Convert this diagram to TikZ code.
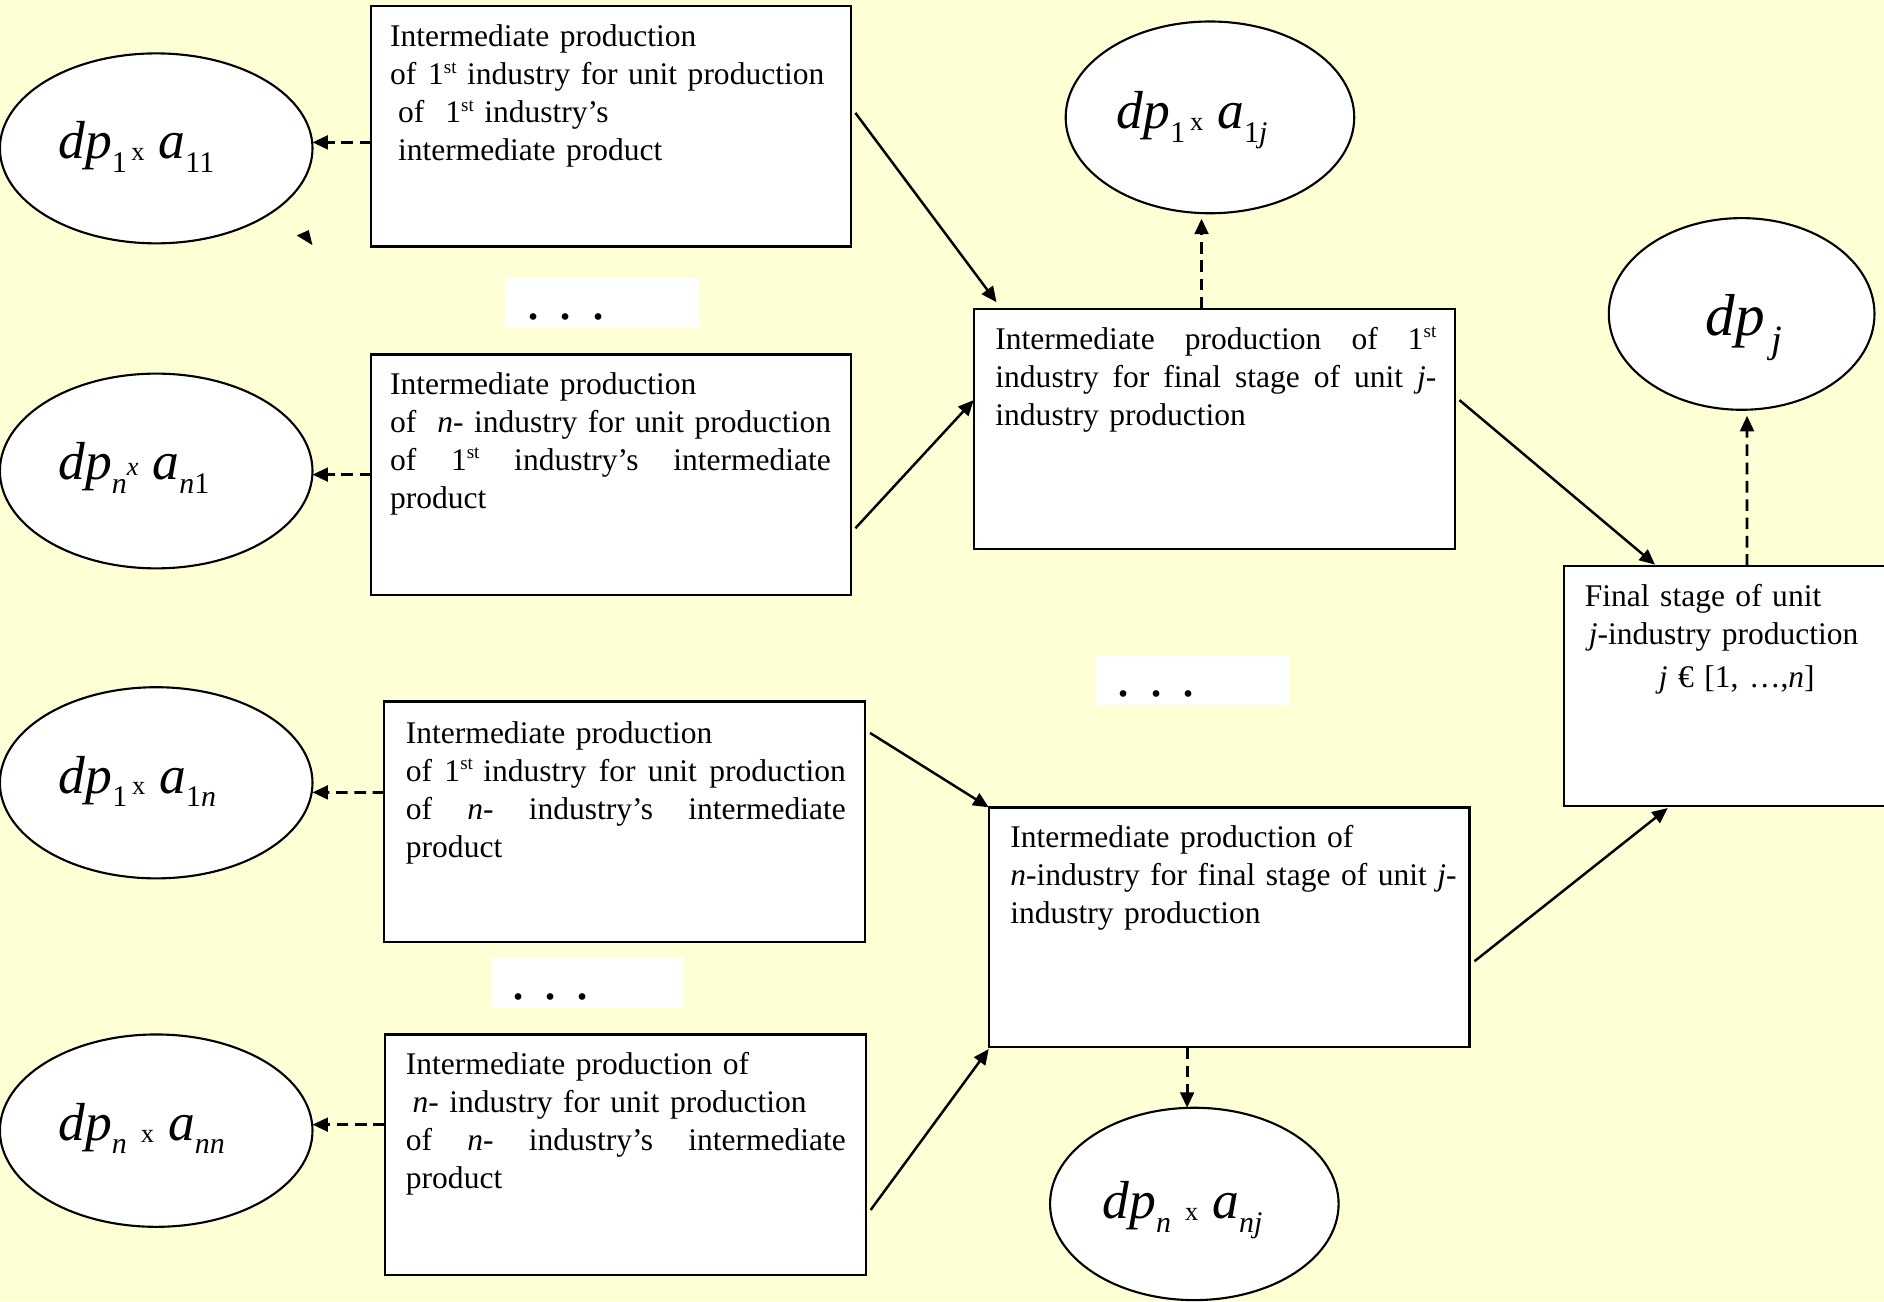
\documentclass[tikz,border=0pt]{standalone}
\usepackage{fontspec}
\setmainfont{Liberation Serif}
\usetikzlibrary{shapes.geometric,arrows.meta,calc}
\definecolor{bgyellow}{RGB}{255,255,214}
\newcommand{\lsub}[1]{\raisebox{-3.9pt}{\fontsize{8.5pt}{10pt}\selectfont #1}}
\newcommand{\smx}{\raisebox{-0.5pt}{\fontsize{7.5pt}{9pt}\selectfont x}}
\newcommand{\smix}{\raisebox{1pt}{\fontsize{7.5pt}{9pt}\selectfont\itshape x}}
\newcommand{\stx}{\raisebox{3.3pt}{\fontsize{5.4pt}{6pt}\selectfont st}}
\newcommand{\jl}[2][4.4cm]{\leavevmode\hbox to #1{#2}}
\begin{document}
\begin{tikzpicture}[x=0.012cm,y=-0.012cm,
  bx/.style={draw, line width=0.65pt, fill=white, rectangle, inner sep=0pt, outer sep=0pt,
    minimum width=4.8cm, minimum height=2.4cm},
  ell/.style={draw, line width=0.6pt, fill=white, ellipse, inner sep=0pt, outer sep=0pt},
  dotbox/.style={fill=white, rectangle, inner sep=0pt, outer sep=0pt},
  dotstxt/.style={inner sep=0pt, anchor=base west, font=\fontsize{16pt}{18pt}\selectfont},
  txt/.style={inner sep=0pt, anchor=base west, text width=5.2cm, align=left,
    font=\fontsize{8.95pt}{10.8pt}\selectfont},
  elab/.style={inner sep=0pt, anchor=base west, font=\fontsize{15.2pt}{18pt}\selectfont},
  arr/.style={-{Triangle[length=4.4pt,width=3.9pt]}, line width=0.7pt},
  darr/.style={arr, line width=0.8pt, dash pattern=on 3.3pt off 1.9pt}]

\fill[bgyellow] (0,0) rectangle (1568,1083);
\useasboundingbox (0,0) rectangle (1568,1083);
\clip (0,0) rectangle (1568,1083);

% boxes
\node[bx, minimum width=4.788cm] (b1) at (508.5,105) {};
\node[bx, minimum width=4.788cm] (b2) at (508.5,395) {};
\node[bx] (b3) at (520,684) {};
\node[bx] (b4) at (520.5,961) {};
\node[bx] (m1) at (1011,357) {};
\node[bx, minimum height=2.394cm] (m2) at (1023,771.75) {};
\node[bx, minimum width=3.6cm] (fin) at (1452,571) {};

% ellipses
\node[ell, minimum width=3.12cm, minimum height=1.896cm] (e1) at (130,123.5) {};
\node[ell, minimum width=3.12cm, minimum height=1.944cm] (e2) at (130,392) {};
\node[ell, minimum width=3.12cm, minimum height=1.908cm] (e3) at (130,651.5) {};
\node[ell, minimum width=3.12cm, minimum height=1.92cm] (e4) at (130,941) {};
\node[ell, minimum width=2.88cm, minimum height=1.914cm] (etop) at (1007,97.7) {};
\node[ell, minimum width=2.652cm, minimum height=1.913cm] (edpj) at (1449.5,261.3) {};
\node[ell, minimum width=2.88cm, minimum height=1.92cm] (ebot) at (994,1002) {};

% ellipse labels
\node[elab] (l1) at (48,132) {\textit{dp}\lsub{1}\hspace{1.3pt}\smx\hspace{4pt}\textit{a}\lsub{11}};
\node[elab] (l2) at (48,399) {\textit{dp}\lsub{\textit{n}}\smix\hspace{4pt}\textit{a}\lsub{\textit{n}1}};
\node[elab] (l3) at (48.5,660) {\textit{dp}\lsub{1}\hspace{1.3pt}\smx\hspace{4pt}\textit{a}\lsub{1\textit{n}}};
\node[elab] (l4) at (48,949) {\textit{dp}\lsub{\textit{n}}\hspace{4pt}\smx\hspace{4pt}\textit{a}\lsub{\textit{nn}}};
\node[elab] (ltop) at (929,107) {\textit{dp}\lsub{1}\hspace{1.3pt}\smx\hspace{4pt}\textit{a}\lsub{1\textit{j}}};
\node[elab] (lbot) at (917,1014) {\textit{dp}\lsub{\textit{n}}\hspace{4pt}\smx\hspace{4pt}\textit{a}\lsub{\textit{nj}}};
\node[elab, font=\fontsize{16.8pt}{20pt}\selectfont] (ldpj) at (1419,279)
  {\textit{dp}\hspace{2pt}\raisebox{-5pt}{\fontsize{11pt}{13pt}\selectfont\textit{j}}};

% box texts
\node[txt] (t1) at (324,38.9) {Intermediate production\\
of\hspace{3.4pt}1\stx{} industry for unit production\\
\hspace*{2.3pt}of~~1\stx{} industry’s\\
\hspace*{2.3pt}intermediate product};

\node[txt] (t2) at (324,328) {Intermediate production\\
of~~\textit{n}- industry for unit production\\
\jl{of\hfill 1\stx\hfill industry’s\hfill intermediate}\\
product};

\node[txt] (tm1) at (827.9,290.5) {\jl{Intermediate\hfill production\hfill of\hfill 1\stx}\\
\jl{industry\hfill for\hfill final\hfill stage\hfill of\hfill unit\hfill \textit{j}-}\\
industry production};

\node[txt] (t3) at (337.3,618.7) {Intermediate production\\
\jl[4.39cm]{of\hfill 1\stx{} industry\hfill for\hfill unit\hfill production}\\
\jl[4.39cm]{of\hfill \textit{n}-\hfill industry’s\hfill intermediate}\\
product};

\node[txt] (t4) at (337.3,894) {Intermediate production of\\
\hspace*{1.9pt}\textit{n}- industry for unit production\\
\jl[4.39cm]{of\hfill \textit{n}-\hfill industry’s\hfill intermediate}\\
product};

\node[txt] (tm2) at (840.3,705.1) {Intermediate production of\\
\textit{n}-industry for final stage of unit \textit{j}-\\
industry production};

\node[txt, text width=3.2cm] (tfin) at (1318.5,505) {Final stage of unit\\
\hspace*{1.1pt}\textit{j}-industry production\\[1.2pt]
\hspace*{21pt}\textit{j} € [1, …,\textit{n}]};

% dots
\node[dotbox, minimum width=1.944cm, minimum height=0.492cm] (d1) at (501,251.5) {};
\node[dotstxt] (d1t) at (437.5,266) {.\hspace{5.2pt}.\hspace{5.2pt}.};
\node[dotbox, minimum width=1.944cm, minimum height=0.492cm] (d2) at (992,566.5) {};
\node[dotstxt] (d2t) at (929,580) {.\hspace{5.2pt}.\hspace{5.2pt}.};
\node[dotbox, minimum width=1.926cm, minimum height=0.498cm] (d3) at (488.75,817.25) {};
\node[dotstxt] (d3t) at (424.7,832) {.\hspace{5.2pt}.\hspace{5.2pt}.};

% stray arrowhead
\fill (247,196) -- (257,191.5) -- (260,204) -- cycle;

% dashed connectors
\draw[darr] ($(b1.west)+(0,13.5)$) -- ($(e1.east)+(0,-5)$);
\draw[darr] (b2.west) -- ($(e2.east)+(0,3)$);
\draw[darr] ($(b3.west)+(0,-24.5)$) -- ($(e3.east)+(0,8)$);
\draw[darr] ($(b4.west)+(0,-25)$) -- ($(e4.east)+(0,-5)$);
\draw[darr] ($(m1.north)+(-11,0)$) -- ($(etop.south)+(-7,4.5)$);
\draw[darr] ($(m2.south)+(-35,0)$) -- ($(ebot.north)+(-6,0)$);
\draw[darr] ($(fin.north)+(2,0)$) -- ($(edpj.south)+(4.5,5)$);

% solid connectors
\draw[arr] ($(b1.east)+(3.8,-11)$) -- ($(m1.north west)+(18.5,-5.4)$);
\draw[arr] ($(b2.east)+(3.8,44.6)$) -- ($(m1.west)+(-0.5,-24)$);
\draw[arr] ($(b3.east)+(4,-74)$) -- (m2.north west);
\draw[arr] ($(b4.east)+(4,46)$) -- ($(m2.south west)+(0,1.5)$);
\draw[arr] ($(m1.east)+(3.5,-24)$) -- ($(fin.north west)+(75.5,-1)$);
\draw[arr] ($(m2.east)+(4,28.3)$) -- ($(fin.south west)+(86,1.5)$);
\end{tikzpicture}
\end{document}
